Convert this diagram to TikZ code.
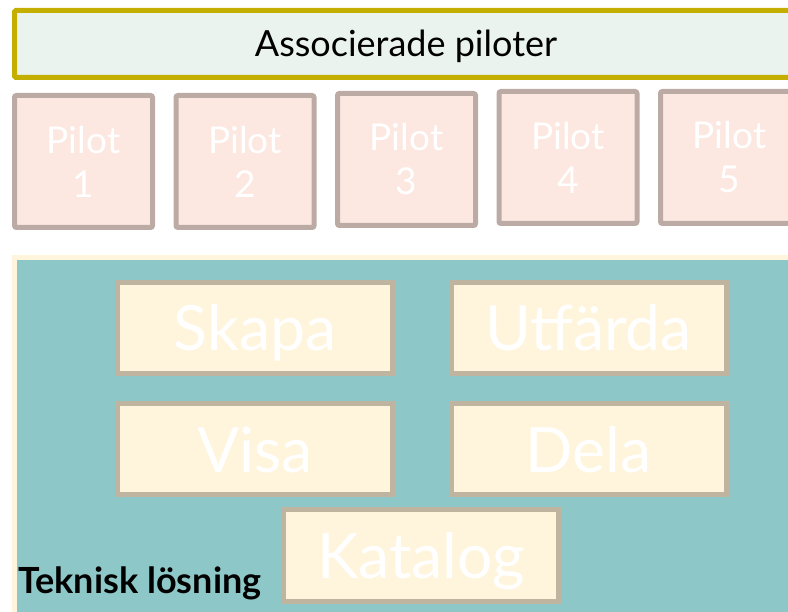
\documentclass[tikz,border=0pt]{standalone}
\usepackage{fontspec}
\setmainfont{Lato}
\usetikzlibrary{positioning}
\definecolor{barline}{RGB}{196,174,0}
\definecolor{barfill}{RGB}{234,243,238}
\definecolor{pilotline}{RGB}{188,170,164}
\definecolor{pilotfill}{RGB}{252,232,224}
\definecolor{panelfill}{RGB}{141,199,199}
\definecolor{cream}{RGB}{255,245,220}
\definecolor{featline}{RGB}{190,180,160}
\newcommand{\linew}{5pt}
\newcommand{\pitch}{161.5}
\tikzstyle{bar}=[draw=barline, fill=barfill, line width=\linew, rounded corners=1.5pt, minimum width=783pt, minimum height=67pt, font=\fontsize{36}{42}\selectfont, text height=26pt, text depth=0pt]
\tikzstyle{pilot}=[draw=pilotline, fill=pilotfill, line width=\linew, rounded corners=2pt, minimum width=138pt, minimum height=132pt, text=white, align=center, font=\fontsize{37}{44}\selectfont]
\tikzstyle{feature}=[draw=featline, fill=cream, line width=\linew, minimum width=275pt, minimum height=91pt, text=white, font=\fontsize{62.5}{70}\selectfont, text height=45pt, text depth=0pt]
\tikzstyle{panel}=[draw=cream, fill=panelfill, line width=\linew]

\begin{document}
\begin{tikzpicture}[x=1pt, y=-1pt]
  \useasboundingbox (0,0) rectangle (788,612);

  \node[bar] (bar) at (406, 44) {Associerade piloter};

  \node[pilot] (P1) at (83.5+0*\pitch, 161.5) {Pilot\\1};
  \node[pilot] (P2) at (83.5+1*\pitch, 161.5) {Pilot\\2};
  \node[pilot] (P3) at (83.5+2*\pitch, 159.5) {Pilot\\3};
  \node[pilot] (P4) at (83.5+3*\pitch, 157.5) {Pilot\\4};
  \node[pilot] (P5) at (83.5+4*\pitch, 157.5) {Pilot\\5};

  \draw[panel] (14.5, 257.5) rectangle (820, 640);

  \node[feature] (skapa) at (255, 328) {Skapa};
  \node[feature] (utfarda) at (588.5, 328) {Utfärda};
  \node[feature] (visa) at (255, 449.5) {Visa};
  \node[feature] (dela) at (588.5, 449.5) {Dela};
  \node[feature] (katalog) at (421, 555.5) {Katalog};

  \node[anchor=base west, inner sep=0, font=\bfseries\fontsize{36}{42}\selectfont] (teknisk) at (18, 593) {Teknisk lösning};
\end{tikzpicture}
\end{document}
